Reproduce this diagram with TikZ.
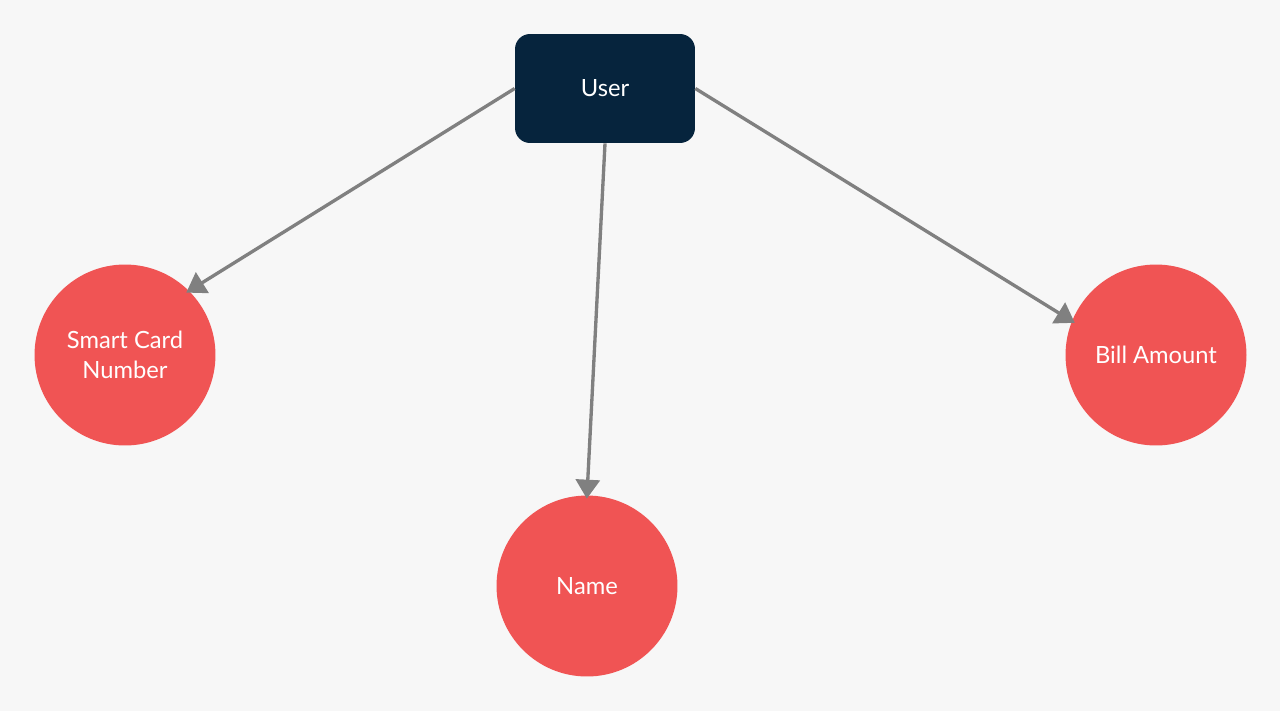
\documentclass[tikz,border=0pt]{standalone}
\usepackage{fontspec}
\setmainfont{Lato}
\usetikzlibrary{arrows.meta}
\definecolor{PageBg}{HTML}{F7F7F7}
\definecolor{EntityNavy}{HTML}{06243D}
\definecolor{AttrRed}{HTML}{F05454}
\definecolor{LinkGray}{HTML}{808080}
\begin{document}
\begin{tikzpicture}[x=0.02cm,y=-0.02cm,
	entity/.style={draw=none,fill=EntityNavy,rounded corners=0.3cm,minimum width=3.6cm,minimum height=2.18cm,text=white,font=\fontsize{13.5}{17}\selectfont},
	attribute/.style={circle,draw=none,fill=AttrRed,minimum size=3.62cm,inner sep=0pt,text=white,align=center,font=\fontsize{13.5}{17}\selectfont},
	link/.style={draw=LinkGray,line width=1.9pt,-{Triangle[length=0.38cm,width=0.48cm]},shorten >=-2pt}]
	\fill[PageBg] (0,0) rectangle (1280,711);% background
	\useasboundingbox (0,0) rectangle (1280,711);
	
	\node[entity]    (User)       at (605,88.5) {User};
	\node[attribute] (SmartCard)  at (125,355)  {Smart Card\\Number};
	\node[attribute] (Name)       at (587,586)  {Name};
	\node[attribute] (BillAmount) at (1156,355) {Bill Amount};
	
	\draw[link] (User.west)  -- (SmartCard.45);
	\draw[link] (User.south) -- (Name.north);
	\draw[link] (User.east)  -- (BillAmount.158);
	
\end{tikzpicture}
\end{document}
